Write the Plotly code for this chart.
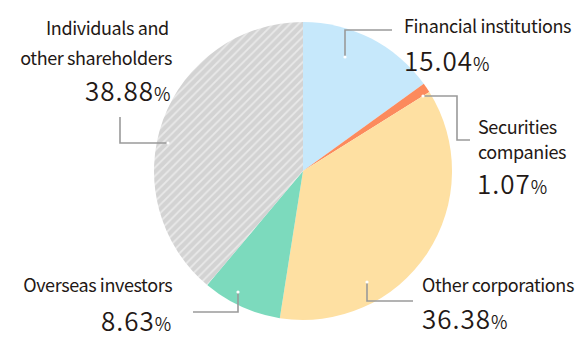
import plotly.graph_objects as go

W, H = 582, 340

categories = ["Financial institutions", "Securities companies", "Other corporations",
              "Overseas investors", "Individuals and other shareholders"]
values = [15.04, 1.07, 36.38, 8.63, 38.88]
colors = ["#c6e8fb", "#fc8a5c", "#fee0a2", "#7cdabd", "#d3d3d3"]
patterns = ["", "", "", "", "/"]

# label lines (each category label may span multiple lines)
label_lines = [["Financial institutions"], ["Securities", "companies"], ["Other corporations"],
               ["Overseas investors"], ["Individuals and", "other shareholders"]]

FONT = "Noto Sans CJK JP"
TXT = "#231815"
LINE = "#9a9a9a"

cx, cy, r = 303, 171, 149


def px(x):
    return x / W


def py(y):
    return 1 - y / H


fig = go.Figure()
fig.add_trace(go.Pie(
    labels=categories, values=values, sort=False, direction="clockwise", rotation=0,
    textinfo="none", hoverinfo="label+percent",
    marker=dict(colors=colors, line=dict(width=0),
                pattern=dict(shape=patterns, fgcolor="#ffffff", bgcolor=colors,
                             size=6, solidity=0.28, fillmode="overlay")),
    domain=dict(x=[px(cx - r), px(cx + r)], y=[py(cy + r), py(cy - r)]),
    showlegend=False,
))

layout_spec = {
    0: dict(anchor="left", lines=[(402, 25)], val=(402, 59),
            path=[(345, 57), (345, 30), (392, 30)]),
    1: dict(anchor="left", lines=[(476, 126), (476, 151)], val=(475, 182),
            path=[(423, 96), (457, 96), (457, 140), (470, 140)]),
    2: dict(anchor="left", lines=[(420, 284)], val=(420, 317),
            path=[(367, 282), (367, 301), (413, 301)]),
    3: dict(anchor="right", lines=[(174, 284)], val=(174, 319),
            path=[(238, 292), (238, 312), (193, 312)]),
    4: dict(anchor="right", lines=[(171, 27), (174, 57)], val=(174, 90),
            path=[(168, 143), (120, 143), (120, 117)]),
}

shapes = []
annotations = []
for i, spec in layout_spec.items():
    for txt, (x, y) in zip(label_lines[i], spec["lines"]):
        annotations.append(dict(
            x=px(x), y=py(y), xref="paper", yref="paper", text=txt, showarrow=False,
            xanchor=spec["anchor"], yanchor="middle", align=spec["anchor"],
            font=dict(family=FONT, size=18, color=TXT)))
    vx, vy = spec["val"]
    annotations.append(dict(
        x=px(vx), y=py(vy), xref="paper", yref="paper",
        text=f"{values[i]:.2f}<span style='font-size:18px'>%</span>",
        showarrow=False, xanchor=spec["anchor"], yanchor="middle", align=spec["anchor"],
        font=dict(family=FONT, size=26, color=TXT, weight=350)))
    pts = spec["path"]
    d = "M " + " L ".join(f"{px(x)},{py(y)}" for x, y in pts)
    shapes.append(dict(type="path", path=d, xref="paper", yref="paper",
                       line=dict(color=LINE, width=1.6)))
    sx, sy = pts[0]
    shapes.append(dict(type="circle", xref="paper", yref="paper",
                       x0=px(sx - 1.6), x1=px(sx + 1.6), y0=py(sy + 1.6), y1=py(sy - 1.6),
                       fillcolor="#ffffff", line=dict(width=0)))

fig.update_layout(
    width=W, height=H, margin=dict(l=0, r=0, t=0, b=0),
    paper_bgcolor="#ffffff", plot_bgcolor="#ffffff",
    shapes=shapes, annotations=annotations,
)

post = """
var gd = document.getElementById('{plot_id}');
gd.querySelectorAll('g.annotation text.annotation-text').forEach(function(t){
  var s = t.textContent.trim();
  if (/^[0-9]/.test(s)) { t.style.letterSpacing = '1px'; }
  else { t.style.letterSpacing = '-0.4px'; }
});
"""

fig.write_html("out.html", post_script=post)
